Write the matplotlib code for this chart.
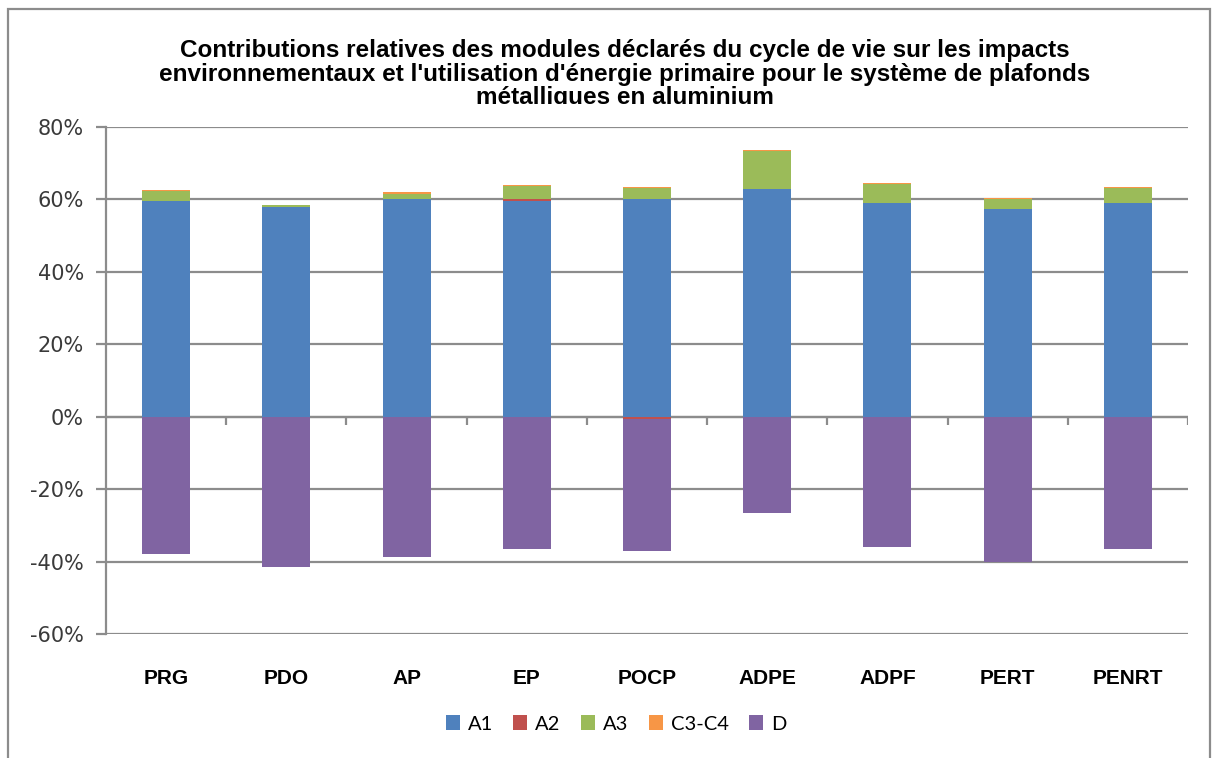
import numpy as np
import matplotlib
matplotlib.use("Agg")
import matplotlib.pyplot as plt
from matplotlib.patches import Rectangle
from matplotlib.transforms import Bbox, TransformedBbox
from matplotlib.ticker import FuncFormatter, MultipleLocator

# ---- data (% contribution) ----
categories = ["PRG", "PDO", "AP", "EP", "POCP", "ADPE", "ADPF", "PERT", "PENRT"]
modules = ["A1", "A2", "A3", "C3-C4", "D"]
a1 = [59.5, 57.9, 60.0, 59.7, 60.2, 62.9, 59.1, 57.3, 59.1]
a2 = [0.1, 0.05, 0.1, 0.5, -0.5, 0.05, 0.05, 0.05, 0.05]
a3 = [2.6, 0.5, 1.5, 3.5, 3.0, 10.3, 5.2, 2.7, 4.1]
c34 = [0.3, 0.1, 0.4, 0.4, 0.3, 0.3, 0.3, 0.3, 0.3]
d = [-38.0, -41.4, -38.6, -36.4, -36.5, -26.5, -35.9, -40.0, -36.5]
series = [a1, a2, a3, c34, d]
colors = ["#4F81BD", "#C0504D", "#9BBB59", "#F79646", "#8064A2"]

title = ("Contributions relatives des modules déclarés du cycle de vie sur les impacts\n"
         "environnementaux et l'utilisation d'énergie primaire pour le système de plafonds\n"
         "métalliques en aluminium")

GRID = "#8c8c8c"
W, H = 1214, 758
fig = plt.figure(figsize=(W / 100, H / 100), dpi=100)
ax = fig.add_axes([106 / W, 1 - 634 / H, (1188 - 106) / W, (634 - 127) / H])

x = np.arange(len(categories))
pos_base = np.zeros(len(categories))
neg_base = np.zeros(len(categories))
for vals, col, lab in zip(series, colors, modules):
    v = np.array(vals, dtype=float)
    base = np.where(v >= 0, pos_base, neg_base)
    ax.bar(x, v, width=0.4, bottom=base, color=col, label=lab, zorder=3, linewidth=0)
    pos_base += np.where(v >= 0, v, 0)
    neg_base += np.where(v < 0, v, 0)

# axes styling, Excel 2007 look
ax.set_xlim(-0.5, len(categories) - 0.5)
ax.set_ylim(-60, 80)
ax.yaxis.set_major_locator(MultipleLocator(20))
ax.yaxis.set_major_formatter(FuncFormatter(lambda v, p: "%d%%" % v))
ax.yaxis.grid(True, color=GRID, lw=1.6, zorder=1)
for s in ("top", "right", "bottom"):
    ax.spines[s].set_visible(False)
ax.spines["left"].set_color(GRID); ax.spines["left"].set_linewidth(1.6)
ax.tick_params(axis="y", length=7, width=1.6, color=GRID, pad=9,
               labelsize=15, labelcolor="#3a3a3a")
ax.set_xticks(x)
ax.set_xticklabels(categories, fontfamily="Liberation Sans", fontweight="bold", fontsize=15)
ax.tick_params(axis="x", length=0, pad=25)
ax.axhline(0, color=GRID, lw=1.6, zorder=2)
ax.vlines(np.arange(len(categories)) + 0.5, -2.4, 0, color=GRID, lw=1.6, zorder=2)

# title, clipped at its box like in the source
t = fig.text(625 / W, 1 - 39 / H, title, ha="center", va="top", fontsize=17.5,
             fontfamily="Liberation Sans", fontweight="bold", linespacing=1.03)
t.set_clip_box(TransformedBbox(Bbox([[0, 1 - 104 / H], [1, 1]]), fig.transFigure))
t.set_clip_on(True)

ax.legend(loc="center", bbox_to_anchor=(616 / W, 1 - 724 / H), bbox_transform=fig.transFigure,
          ncol=5, frameon=False, prop={"family": "Lato", "size": 14.5},
          handlelength=0.7, handleheight=0.7, handletextpad=0.4, columnspacing=1.0)

# outer chart border
fig.patches.append(Rectangle((8 / W, -0.05), (1210 - 8) / W, 1.05 - 9 / H, transform=fig.transFigure,
                             fill=False, ec=GRID, lw=1.6))

fig.savefig("out.png", dpi=100)
